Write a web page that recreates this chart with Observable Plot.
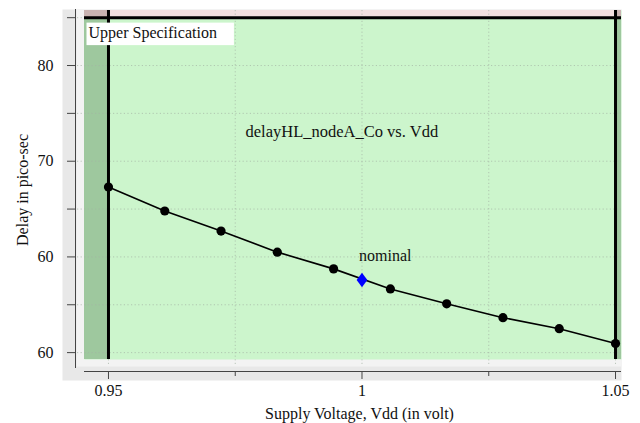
<!DOCTYPE html>
<html>
<head>
<meta charset="utf-8">
<script src="https://cdn.jsdelivr.net/npm/d3@7"></script>
<script src="https://cdn.jsdelivr.net/npm/@observablehq/plot@0.6"></script>
<style>
  body { margin: 0; background: #fff; }
</style>
</head>
<body>
<div id="chart"></div>
<script>
// Delay of delayHL_nodeA_Co swept over the supply voltage
const vdd   = [0.95, 0.9611, 0.9722, 0.9833, 0.9944, 1.0056, 1.0167, 1.0278, 1.0389, 1.05];
const delay = [67.3, 64.8, 62.7, 60.5, 58.75, 56.65, 55.1, 53.65, 52.5, 50.95];

// Nominal operating point
const nominalVdd = [1.0];
const nominalDelay = [57.6];

// Specification limits
const vddSpec = [0.95, 1.05];
const upperSpec = 85;

// Axis ticks and their labels
const xMajorTicks = [0.95, 1, 1.05];
const xMajorLabels = ["0.95", "1", "1.05"];
const xMinorTicks = [0.975, 1.025];
const yTicks = [50, 55, 60, 65, 70, 75, 80, 85];
const yLabelTicks = [50, 60, 70, 80];
const yTickLabels = ["60", "60", "70", "80"];

// Texts
const chartTitle = "delayHL_nodeA_Co vs. Vdd";
const xTitle = "Supply Voltage, Vdd (in volt)";
const yTitle = "Delay in pico-sec";
const specLabel = "Upper Specification";
const nominalLabel = "nominal";

// Tables built from the arrays above
const points = vdd.map((v, i) => ({vdd: v, delay: delay[i]}));
const nominal = nominalVdd.map((v, i) => ({vdd: v, delay: nominalDelay[i]}));
const xLabelOf = new Map(xMajorTicks.map((t, i) => [t, xMajorLabels[i]]));
const yLabelOf = new Map(yLabelTicks.map((t, i) => [t, yTickLabels[i]]));
const xGrid = [...xMajorTicks, ...xMinorTicks];

const xDomain = [0.94527, 1.05118];
const yDomain = [49.28, 85.75];
const [vLo, vHi] = vddSpec;

// Out-of-spec regions: voltage outside the limits (dark green), delay above the limit (pink)
const outGreen = "#9ec89e";
const outPink = "#f3e0e0";
const outBoth = "#c9b3b1";
const zones = [
  {x1: xDomain[0], x2: vLo, y1: yDomain[0], y2: upperSpec, fill: outGreen},
  {x1: vHi, x2: xDomain[1], y1: yDomain[0], y2: upperSpec, fill: outGreen},
  {x1: vLo, x2: vHi, y1: upperSpec, y2: yDomain[1], fill: outPink},
  {x1: xDomain[0], x2: vLo, y1: upperSpec, y2: yDomain[1], fill: outBoth},
  {x1: vHi, x2: xDomain[1], y1: upperSpec, y2: yDomain[1], fill: outBoth}
];

// Slightly tall diamond marker for the nominal point
const tallDiamond = {
  draw(ctx, size) {
    const r = Math.sqrt(size / Math.PI);
    ctx.moveTo(0, -1.45 * r);
    ctx.lineTo(1.07 * r, 0);
    ctx.lineTo(0, 1.45 * r);
    ctx.lineTo(-1.07 * r, 0);
    ctx.closePath();
  }
};

const ink = "#111";
const gridStyle = {stroke: "#a4b4a4", strokeWidth: 1, strokeDasharray: "1.2,2.4", strokeOpacity: 0.7};

const chart = Plot.plot({
  width: 640,
  height: 423,
  marginLeft: 84,
  marginRight: 19,
  marginTop: 10,
  marginBottom: 64,
  style: {fontFamily: "'Liberation Serif', 'Times New Roman', serif", fontSize: "16px", background: "#fff", color: ink, overflow: "visible"},
  color: {type: "identity"},
  x: {domain: xDomain, label: null},
  y: {domain: yDomain, label: null},
  marks: [
    // panel backgrounds
    Plot.frame({fill: "#e8e8e8", stroke: "none", insetLeft: -22, insetTop: -1, insetBottom: -21}),
    Plot.frame({fill: "#f3f3f3", stroke: "none", insetLeft: -8, insetTop: -1, insetBottom: -7}),
    Plot.frame({fill: "#ccf5cc", stroke: "none"}),
    Plot.rect(zones, {x1: "x1", x2: "x2", y1: "y1", y2: "y2", fill: "fill"}),

    // dotted grid
    Plot.ruleY(yTicks, {...gridStyle, insetLeft: -7}),
    Plot.ruleX(xGrid, {...gridStyle, insetBottom: -7}),

    // specification limits
    Plot.ruleX(vddSpec, {stroke: "#000", strokeWidth: 3}),
    Plot.ruleY([upperSpec], {stroke: "#000", strokeWidth: 3}),

    // delay curve
    Plot.line(points, {x: "vdd", y: "delay", stroke: "#000", strokeWidth: 1.6}),
    Plot.dot(points, {x: "vdd", y: "delay", r: 4.6, fill: "#000", stroke: "none"}),
    Plot.dot(nominal, {x: "vdd", y: "delay", r: 5, symbol: tallDiamond, fill: "#0000ff", stroke: "none"}),
    Plot.text(nominal, {x: "vdd", y: "delay", text: () => nominalLabel, textAnchor: "start", lineAnchor: "middle", dx: -3, dy: -24, fill: ink}),

    // annotations
    Plot.text([chartTitle], {frameAnchor: "top-left", text: d => d, textAnchor: "start", lineAnchor: "middle", dx: 161, dy: 121, fontSize: 16.5, fill: ink}),
    Plot.text([specLabel], {frameAnchor: "top-left", text: d => d, textAnchor: "start", lineAnchor: "middle", dx: 4, dy: 22, fill: ink}),

    // axes
    Plot.ruleX([xDomain[0]], {dx: -9, stroke: "#444", strokeWidth: 1, insetTop: -1, insetBottom: -9}),
    Plot.axisY({ticks: yTicks, tickSize: 8, tickPadding: 14, dx: -9, stroke: "#444", fill: ink, tickFormat: d => yLabelOf.get(d) ?? ""}),
    Plot.ruleY([yDomain[0]], {dy: 12, stroke: "#444", strokeWidth: 1}),
    Plot.axisX({anchor: "bottom", ticks: xMajorTicks, tickSize: 8, tickPadding: 5, dy: 12, stroke: "#444", fill: ink, tickFormat: d => xLabelOf.get(d) ?? ""}),
    Plot.axisX({anchor: "bottom", ticks: xMinorTicks, tickSize: 5, dy: 12, stroke: "#444", fill: "none", tickFormat: () => ""}),

    // axis titles
    Plot.text([yTitle], {frameAnchor: "left", text: d => d, rotate: -90, textAnchor: "middle", lineAnchor: "middle", dx: -62, dy: 5, fill: ink}),
    Plot.text([xTitle], {frameAnchor: "bottom", text: d => d, textAnchor: "middle", lineAnchor: "middle", dx: 6.5, dy: 54, fill: ink})
  ]
});

document.getElementById("chart").appendChild(chart);

// White box behind the "Upper Specification" label, sized from the text itself
const specText = Array.from(chart.querySelectorAll("text")).find(t => t.textContent === specLabel);
if (specText) {
  const bb = specText.getBBox();
  const box = document.createElementNS("http://www.w3.org/2000/svg", "rect");
  box.setAttribute("x", bb.x - 2);
  box.setAttribute("y", bb.y - 1);
  box.setAttribute("width", bb.width + 19);
  box.setAttribute("height", bb.height + 4.5);
  box.setAttribute("fill", "#fff");
  const tr = specText.getAttribute("transform");
  if (tr) box.setAttribute("transform", tr);
  specText.parentNode.insertBefore(box, specText);
}
</script>
</body>
</html>
